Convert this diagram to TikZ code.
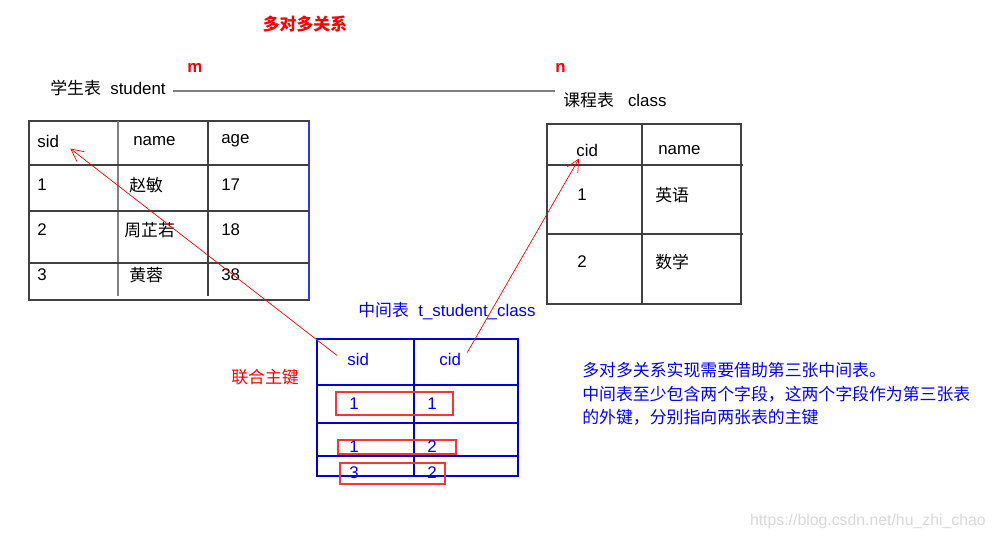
\documentclass[tikz,border=0pt]{standalone}
\usepackage{fontspec}
\setmainfont{Liberation Sans}
\newfontfamily\cjk{Noto Sans CJK SC}
\usetikzlibrary{arrows.meta}
\newcommand{\zh}[1]{{\cjk #1}}

\begin{document}
\begin{tikzpicture}[x=0.02cm, y=-0.02cm,
  lbl/.style={anchor=west, inner sep=0pt, font=\fontsize{9.6}{11}\selectfont},
  grid/.style={draw=black!75, line width=0.6pt},
  bluegrid/.style={draw=blue!85!black, line width=0.6pt},
  redbox/.style={draw=red!80, line width=0.6pt},
  rel/.style={draw=gray, line width=0.9pt},
  ptr/.style={draw=red, line width=0.4pt, -{Straight Barb[length=7pt,width=7pt]}}]

\useasboundingbox (0,0) rectangle (995,539);

% title and relation
\node[lbl, anchor=center, text=red, font=\fontsize{9.6}{11}\selectfont\bfseries] (title) at (305,24) {\zh{多对多关系}};
\node[lbl] (stu) at (50,88) {\zh{学生表}~~student};
\node[lbl] (cls) at (563,100) {\zh{课程表}~~~class};
\node[lbl, text=red, font=\fontsize{9.6}{11}\selectfont\bfseries] (m) at (187,68) {m};
\node[lbl, text=red, font=\fontsize{9.6}{11}\selectfont\bfseries] (n) at (555,68) {n};
\draw[rel] ([shift={(7,3)}]stu.east) -- ([shift={(-8,3)}]stu.east -| cls.west);

% student table
\draw[grid] (29,121) rectangle (309,300);
\draw[draw=blue!80, line width=0.6pt] (309,121) -- (309,300);
\draw[grid, draw=gray] (118,121) -- (118,296);
\draw[grid] (208,121) -- (208,296);
\foreach \y in {165,211,263}
  \draw[grid] (29,\y) -- (309,\y);
\node[lbl] (ssid) at (37,141) {sid};
\node[lbl] (sname) at (133,141) {name};
\node[lbl] (sage) at (221,141) {age};
\foreach \y/\i/\nx/\nm/\ag in {185/1/129/赵敏/17, 230/2/124/周芷若/18, 275/3/129/黄蓉/38} {
  \node[lbl] (sid\i) at (37,\y) {\i};
  \node[lbl] (sname\i) at (\nx,\y) {\zh{\nm}};
  \node[lbl] (sage\i) at (221,\y) {\ag};
}

% class table
\draw[grid] (547,124) rectangle (741,304);
\draw[grid] (642,124) -- (642,304);
\foreach \y in {165,234}
  \draw[grid] (547,\y) -- (743,\y);
\node[lbl] (ccid) at (576,150) {cid};
\node[lbl] (cname) at (658,150) {name};
\node[lbl] (cid1) at (577,195) {1};
\node[lbl] (cname1) at (655,195) {\zh{英语}};
\node[lbl] (cid2) at (577,262) {2};
\node[lbl] (cname2) at (655,262) {\zh{数学}};

% middle table
\node[lbl, text=blue] (mid) at (358,311) {\zh{中间表}~~t\_student\_class};
\node[lbl, text=red] (key) at (231,377) {\zh{联合主键}};
\draw[bluegrid] (317,339) rectangle (518,476);
\draw[bluegrid] (414,339) -- (414,476);
\foreach \y in {385,423,456}
  \draw[bluegrid] (317,\y) -- (518,\y);
\draw[redbox] (336,392) rectangle (453,415);
\draw[redbox] (338,440) rectangle (456,454);
\draw[redbox] (340,463) rectangle (445,484);
\node[lbl, text=blue] (msid) at (347,359) {sid};
\node[lbl, text=blue] (mcid) at (439,359) {cid};
\foreach \y/\i/\a/\b in {404/1/1/1, 447/2/1/2, 473/3/3/2} {
  \node[lbl, text=blue] (ma\i) at (349,\y) {\a};
  \node[lbl, text=blue] (mb\i) at (427,\y) {\b};
}

% foreign keys
\draw[ptr] ([shift={(-10,3)}]msid.north west) -- ([shift={(11,1)}]ssid.south east);
\draw[ptr] ([shift={(6,0)}]mcid.north east) -- ([shift={(3,2)}]ccid.south west);

% note
\node[lbl, anchor=north west, align=left, text=blue, font={\fontsize{9.6}{13.3}\selectfont\cjk}] (note) at (582,362)
  {多对多关系实现需要借助第三张中间表。\\中间表至少包含两个字段，这两个字段作为第三张表\\的外键，分别指向两张表的主键};

\node[lbl, anchor=east, text=black!15, font=\fontsize{9}{11}\selectfont] (wm) at (986,521) {https://blog.csdn.net/hu\_zhi\_chao};

\end{tikzpicture}
\end{document}
